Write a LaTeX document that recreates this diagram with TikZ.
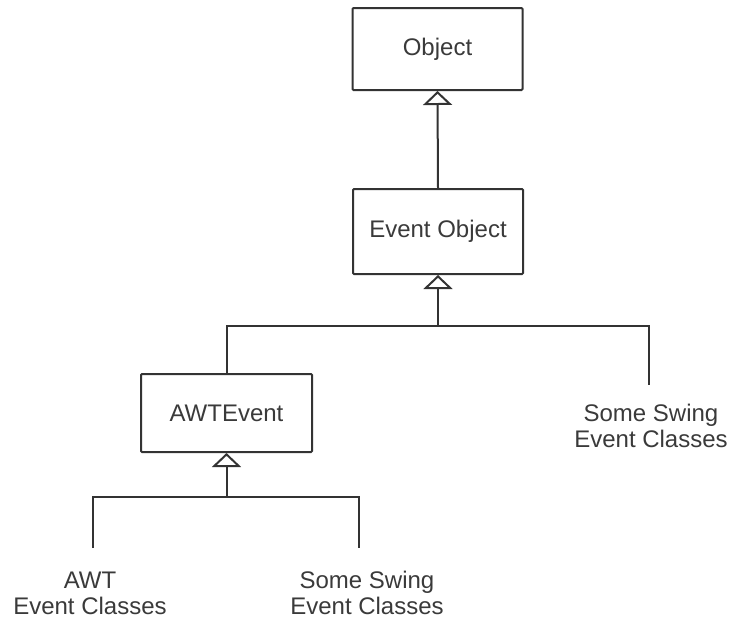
\documentclass[tikz,border=0pt]{standalone}
\usepackage{fontspec}
\setmainfont{Liberation Sans}
\usetikzlibrary{arrows.meta}
\definecolor{linegray}{HTML}{333333}
\definecolor{textgray}{HTML}{3A3A3A}
\tikzset{
  classbox/.style={draw=linegray, line width=2pt, rounded corners=1pt, inner sep=0pt,
    font=\fontsize{24}{26}\selectfont, text=textgray},
  label/.style={align=center, inner sep=0pt, font=\fontsize{24}{26}\selectfont, text=textgray},
  link/.style={draw=linegray, line width=2pt},
  inherit/.style={link, -{Triangle[open, width=29pt, length=14pt, line width=2pt]}},
}
\begin{document}
\begin{tikzpicture}[x=1pt, y=-1pt]
  \useasboundingbox (0,0) rectangle (731,619);

  % class boxes
  \node[classbox, minimum width=170pt, minimum height=82pt] (obj) at (437.5,49) {Object};
  \node[classbox, minimum width=170pt, minimum height=85pt] (evt) at (438,231.5) {Event Object};
  \node[classbox, minimum width=171pt, minimum height=78pt] (awt) at (226.5,413) {AWTEvent};

  % leaf labels
  \node[label] (swa) at (651,426) {Some Swing\\Event Classes};
  \node[label] (awc) at (90,593) {AWT\\Event Classes};
  \node[label] (swb) at (367,593) {Some Swing\\Event Classes};

  % junctions and branch ends
  \coordinate (j1) at (438,326);
  \coordinate (e1) at (649,385);
  \coordinate (j2) at (226.5,497);
  \coordinate (e2) at (93,548);
  \coordinate (e3) at (359,548);

  % Event Object extends Object
  \draw[inherit] (evt.north) -- (obj.south);

  % subclasses of Event Object
  \draw[inherit] (j1) -- (evt.south);
  \draw[link] (awt.north) |- (j1) -| (e1);

  % subclasses of AWTEvent
  \draw[inherit] (j2) -- (awt.south);
  \draw[link] (e2) |- (j2) -| (e3);
\end{tikzpicture}
\end{document}
